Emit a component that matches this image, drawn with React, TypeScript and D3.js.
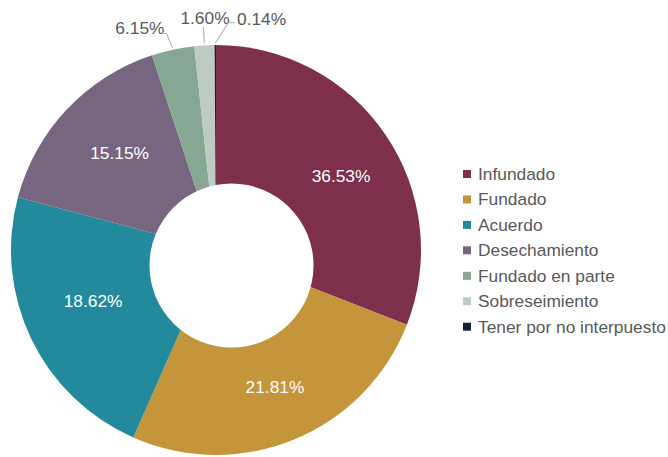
import React from "react";
import * as d3 from "d3";

const categories = [
  "Infundado",
  "Fundado",
  "Acuerdo",
  "Desechamiento",
  "Fundado en parte",
  "Sobreseimiento",
  "Tener por no interpuesto",
];
// slice shares as drawn in the picture
const sliceValues = [30.94, 25.67, 22.53, 15.81, 3.36, 1.58, 0.11];
// printed data labels
const labelTexts = ["36.53%", "21.81%", "18.62%", "15.15%", "6.15%", "1.60%", "0.14%"];
const colors = ["#7E2F4B", "#C4953A", "#23899C", "#77667F", "#87A795", "#BCCCC3", "#14213A"];

const W = 668;
const H = 457;
const cx = 216;
const cy = 250;
const R = 205;
const holeCx = 231.5;
const holeCy = 265.5;
const holeR = 82;
const FONT = "'Liberation Sans', Arial, sans-serif";
const FS = 17.33;
const TEXT_COLOR = "#595959";

// small layout nudges for the inside labels
const insideNudge: [number, number][] = [
  [6, 7],
  [0.5, -5],
  [2, -9.5],
  [0, -6],
];

// outside label layout (for the small slices)
const outsideLayout: Record<number, { pts: [number, number][]; tx: number; ty: number; anchor: string }> = {
  4: { pts: [[166.5, 33.5], [164, 33.5]], tx: 164.5, ty: 34, anchor: "end" },
  5: { pts: [[203.5, 27]], tx: 205, ty: 24, anchor: "middle" },
  6: { pts: [[228.3, 22.7], [234.5, 22.7]], tx: 237, ty: 24.5, anchor: "start" },
};

export default function App() {
  const pie = d3
    .pie<number>()
    .sort(null)
    .value((d) => d)
    .startAngle(0)
    .endAngle(2 * Math.PI);
  const arcs = pie(sliceValues);
  const arc = d3.arc<d3.PieArcDatum<number>>().innerRadius(0).outerRadius(R);

  const insidePos = (a: d3.PieArcDatum<number>) => {
    const m = (a.startAngle + a.endAngle) / 2;
    const dx = Math.sin(m);
    const dy = -Math.cos(m);
    const c = [holeCx - cx, holeCy - cy];
    const dc = dx * c[0] + dy * c[1];
    const cc = c[0] * c[0] + c[1] * c[1];
    const t = dc + Math.sqrt(dc * dc - (cc - holeR * holeR));
    const r = (t + R) / 2;
    return [cx + dx * r, cy + dy * r];
  };

  return (
    <svg width={W} height={H} style={{ position: "absolute", left: 0, top: 0, background: "#fff" }}>
      <g transform={`translate(${cx},${cy})`}>
        {arcs.map((a, i) => (
          <path key={i} d={arc(a) || ""} fill={colors[i]} />
        ))}
      </g>
      <circle cx={holeCx} cy={holeCy} r={holeR} fill="#fff" />
      {arcs.map((a, i) => {
        if (i > 3) return null;
        const [x, y] = insidePos(a);
        const [nx, ny] = insideNudge[i];
        return (
          <text
            key={"in" + i}
            x={x + nx}
            y={y + ny + 6.2}
            textAnchor="middle"
            fill="#fff"
            fontFamily={FONT}
            fontSize={FS}
          >
            {labelTexts[i]}
          </text>
        );
      })}
      {arcs.map((a, i) => {
        const lay = outsideLayout[i];
        if (!lay) return null;
        const m = (a.startAngle + a.endAngle) / 2;
        const sx = cx + Math.sin(m) * (R + 2);
        const sy = cy - Math.cos(m) * (R + 2);
        const pts: [number, number][] = [[sx, sy], ...lay.pts];
        return (
          <g key={"out" + i}>
            <polyline
              points={pts.map((p) => p.join(",")).join(" ")}
              fill="none"
              stroke="#A6A6A6"
              strokeWidth={1}
            />
            <text
              x={lay.tx}
              y={lay.ty}
              textAnchor={lay.anchor as any}
              fill={TEXT_COLOR}
              fontFamily={FONT}
              fontSize={FS}
            >
              {labelTexts[i]}
            </text>
          </g>
        );
      })}
      <g>
        {categories.map((c, i) => {
          const by = 180 + i * 25.45;
          return (
            <g key={"lg" + i}>
              <rect x={463} y={by - 10} width={8} height={8} fill={colors[i]} />
              <text x={478} y={by} fill={TEXT_COLOR} fontFamily={FONT} fontSize={FS}>
                {c}
              </text>
            </g>
          );
        })}
      </g>
    </svg>
  );
}
